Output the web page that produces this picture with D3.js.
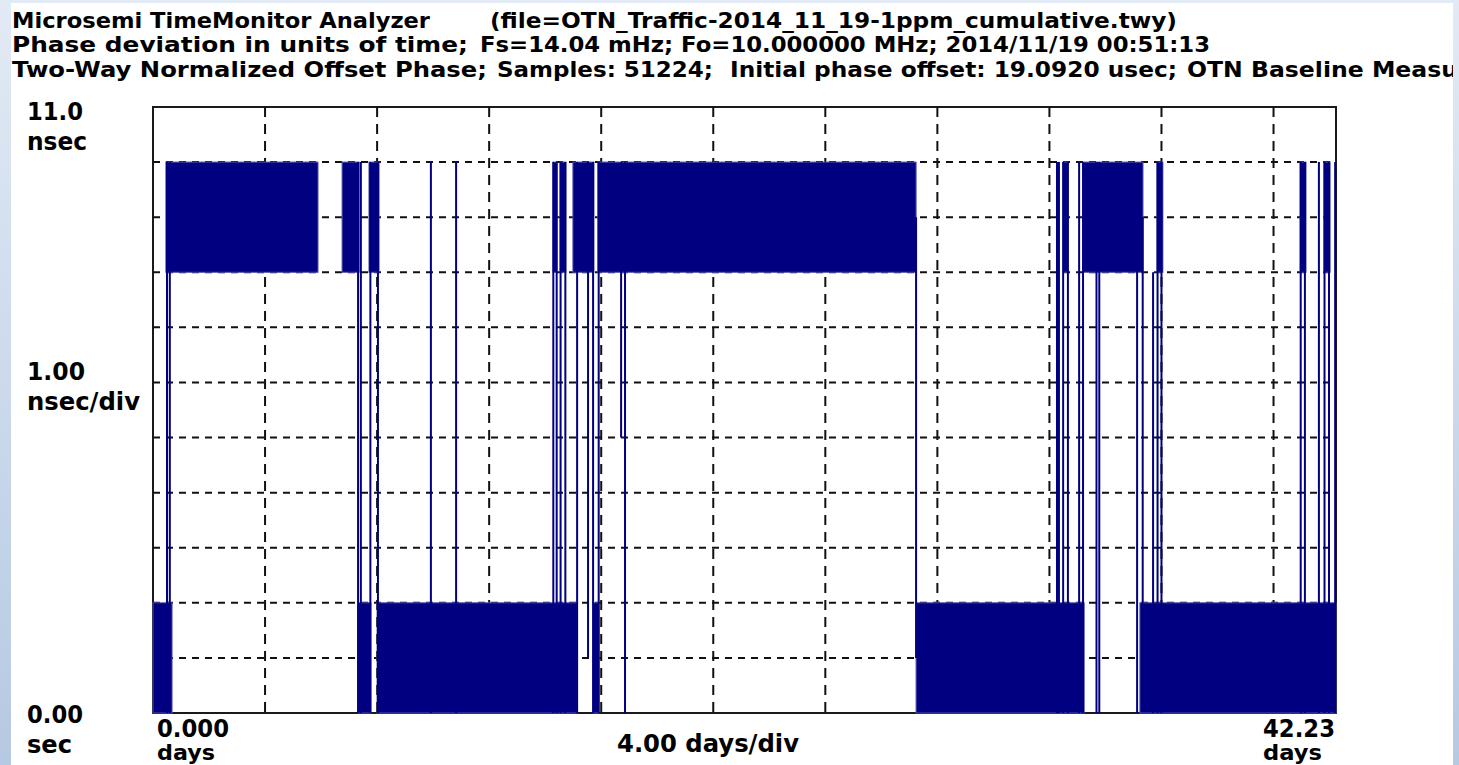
<!DOCTYPE html>
<html>
<head>
<meta charset="utf-8">
<script src="https://d3js.org/d3.v7.min.js"></script>
<style>
  body { margin: 0; background: #fff; }
  text { font-family: "DejaVu Sans", sans-serif; font-weight: bold; fill: #000; }
</style>
</head>
<body>
<script>
  // time in days, phase in nsec
  const lowBands = [[0, 0.68], [7.32, 7.78], [8.0, 15.14], [15.71, 15.92], [27.24, 33.24], [35.23, 42.23]];
  const highBands = [[0.46, 5.89], [6.75, 7.36], [7.71, 8.07], [14.28, 14.42], [14.53, 14.74], [14.99, 15.74],
                     [15.88, 27.24], [32.49, 32.66], [33.2, 35.34], [35.84, 36.05], [40.95, 41.16], [41.8, 42.02]];
  const lowRange = [0, 2];
  const highRange = [8, 10];
  // single transitions: [day, from nsec, to nsec]
  const jumps = [[0.5, 0, 10], [0.6, 0, 10], [7.32, 0, 10], [7.42, 0, 10], [7.76, 0, 10], [8.03, 0, 10],
                 [9.92, 0, 10], [10.82, 0, 10],
                 [14.29, 0, 10], [14.41, 0, 10], [14.55, 0, 10], [14.72, 0, 10], [15.14, 0, 10], [15.53, 1, 10],
                 [15.71, 0, 10], [15.91, 0, 10], [16.71, 5, 10], [16.85, 0, 10],
                 [27.24, 1, 9],
                 [32.27, 0, 10], [32.34, 0, 10], [32.49, 0, 10], [32.66, 0, 10], [33.06, 0, 10], [33.2, 0, 10],
                 [33.68, 0, 10], [33.78, 0, 10], [35.13, 0, 9], [35.33, 1, 9], [35.7, 0, 8],
                 [35.86, 0, 10], [36.0, 0, 10], [40.97, 0, 10], [41.12, 0, 10],
                 [41.62, 0, 10], [41.82, 0, 10], [41.98, 0, 10], [42.2, 0, 10]];
  const xTicks = [4, 8, 12, 16, 20, 24, 28, 32, 36, 40];
  const yTicks = [1, 2, 3, 4, 5, 6, 7, 8, 9, 10];

  const W = 1459, H = 765;
  const plot = {left: 153, top: 107, right: 1336, bottom: 713};
  const navy = "#000080";

  const svg = d3.select("body").append("svg")
    .attr("width", W)
    .attr("height", H);

  const defs = svg.append("defs");
  const grad = defs.append("linearGradient").attr("id", "bg")
    .attr("x1", 0).attr("y1", 0).attr("x2", 0).attr("y2", 1);
  grad.append("stop").attr("offset", "0%").attr("stop-color", "#e2eaf5");
  grad.append("stop").attr("offset", "100%").attr("stop-color", "#b6c9e2");

  svg.append("rect").attr("width", W).attr("height", H).attr("fill", "url(#bg)");
  svg.append("rect").attr("x", 11).attr("y", 3).attr("width", 1442).attr("height", H - 3).attr("fill", "#fff");

  const x = d3.scaleLinear().domain([0, 42.23]).range([plot.left, plot.right]);
  const y = d3.scaleLinear().domain([0, 11]).range([plot.bottom, plot.top]);

  // frame
  svg.append("rect")
    .attr("x", plot.left).attr("y", plot.top)
    .attr("width", plot.right - plot.left).attr("height", plot.bottom - plot.top)
    .attr("fill", "none").attr("stroke", "#1a1a1a").attr("stroke-width", 2);

  // grid
  svg.append("g").selectAll("line").data(yTicks).join("line")
    .attr("x1", plot.left).attr("x2", plot.right)
    .attr("y1", d => y(d)).attr("y2", d => y(d))
    .attr("stroke", "#111").attr("stroke-width", 2).attr("stroke-dasharray", "7,6");
  svg.append("g").selectAll("line").data(xTicks).join("line")
    .attr("x1", d => x(d)).attr("x2", d => x(d))
    .attr("y1", plot.top).attr("y2", plot.bottom)
    .attr("stroke", "#111").attr("stroke-width", 2).attr("stroke-dasharray", "10,7");

  // data
  const data = svg.append("g");
  function bands(list, range) {
    data.append("g").selectAll("rect").data(list).join("rect")
      .attr("x", d => x(d[0]))
      .attr("width", d => Math.max(x(d[1]) - x(d[0]), 2))
      .attr("y", y(range[1]))
      .attr("height", y(range[0]) - y(range[1]))
      .attr("fill", navy).attr("stroke", "#5050aa").attr("stroke-width", 1);
  }
  bands(lowBands, lowRange);
  bands(highBands, highRange);
  data.append("g").selectAll("line").data(jumps).join("line")
    .attr("x1", d => x(d[0])).attr("x2", d => x(d[0]))
    .attr("y1", d => y(d[1])).attr("y2", d => y(d[2]))
    .attr("stroke", navy).attr("stroke-width", 2);

  // texts
  function label(px, py, str, len, size) {
    const t = svg.append("text").attr("x", px).attr("y", py)
      .style("font-size", size + "px").text(str);
    if (len) t.attr("textLength", len).attr("lengthAdjust", "spacingAndGlyphs");
    return t;
  }
  label(12, 28, "Microsemi TimeMonitor Analyzer", 418, 21);
  label(490, 28, "(file=OTN_Traffic-2014_11_19-1ppm_cumulative.twy)", 687, 21);
  label(12, 52, "Phase deviation in units of time;", 456, 21);
  label(480, 52, "Fs=14.04 mHz; Fo=10.000000 MHz; 2014/11/19  00:51:13", 730, 21);
  label(12, 77, "Two-Way Normalized Offset Phase;", 475, 21);
  label(497, 77, "Samples: 51224;", 216, 21);
  label(730, 77, "Initial phase offset: 19.0920 usec;", 447, 21);
  label(1187, 77, "OTN Baseline Measu", 271, 21);

  label(27, 120, "11.0", 56, 24);
  label(27, 150, "nsec", 60, 24);
  label(27, 380, "1.00", 58, 24);
  label(27, 410, "nsec/div", 113, 24);
  label(27, 723, "0.00", 56, 24);
  label(27, 753, "sec", 45, 24);
  label(157, 737, "0.000", 72, 24);
  label(157, 760, "days", 58, 21);
  label(617, 752, "4.00 days/div", 182, 24);
  label(1263, 737, "42.23", 72, 24);
  label(1263, 760, "days", 59, 21);

  // right edge strip covers clipped title
  svg.append("rect").attr("x", 1453).attr("y", 0).attr("width", W - 1453).attr("height", H).attr("fill", "url(#bg)");
</script>
</body>
</html>
